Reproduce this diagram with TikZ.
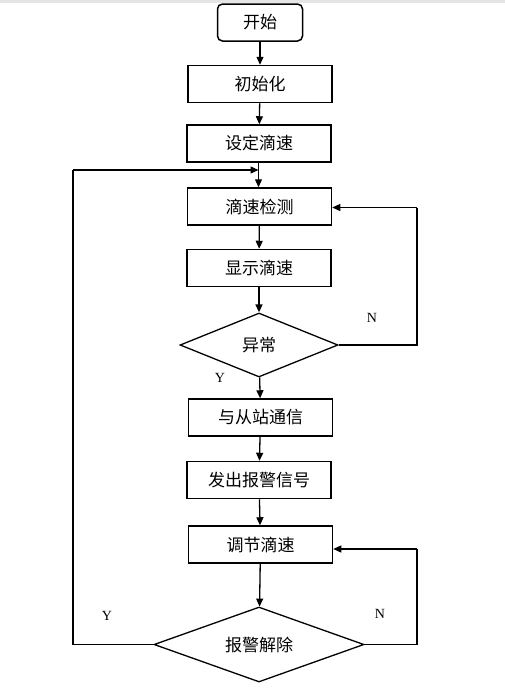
\documentclass[tikz,border=0pt]{standalone}
\usepackage{fontspec}
\setmainfont{Liberation Serif}
\newfontfamily\cjk{Noto Sans CJK SC}
\usetikzlibrary{shapes.geometric, arrows.meta, positioning}

\begin{document}
\begin{tikzpicture}
  [
    x=1pt, y=-1pt,
    Box/.style={rectangle, draw=black, line width=1.5pt, minimum width=144pt, minimum height=37pt, inner sep=0pt, font=\cjk\fontsize{17}{20}\selectfont},
    Start/.style={Box, rounded corners=5pt, minimum width=85pt},
    Decision/.style={diamond, shape aspect=3, draw=black, line width=1.3pt, inner sep=0pt, font=\cjk\fontsize{17}{20}\selectfont},
    Line/.style={line width=1.3pt, -{Triangle[length=8pt,width=7pt]}},
    Plain/.style={line width=1.3pt},
    Mark/.style={font=\fontsize{14}{16}\selectfont}
  ]
  \useasboundingbox (0,0) rectangle (505,689);
  \fill[gray!20] (0,0) rectangle (505,3);

  % Nodes
  \node[Start] (start) at(260, 22.5) {开始};
  \node[Box] (init) at(260, 84) {初始化};
  \node[Box] (set) at(259, 143.5) {设定滴速};
  \node[Box] (detect) at(259.5, 206.5) {滴速检测};
  \node[Box] (show) at(259, 268) {显示滴速};
  \node[Decision, minimum width=158pt, minimum height=64pt] (abn) at(259, 345) {异常};
  \node[Box] (comm) at(260.5, 417.5) {与从站通信};
  \node[Box] (alarm) at(259, 480) {发出报警信号};
  \node[Box] (adjust) at(260.5, 544.5) {调节滴速};
  \node[Decision, minimum width=210pt, minimum height=75pt] (clear) at(259, 644.5) {报警解除};

  \coordinate (join) at(258.5, 170);
  \coordinate (yleft) at(73, 644.5);
  \coordinate (ytop) at(73, 170);
  \coordinate (nright1) at(417, 345);
  \coordinate (ntop1) at(417, 207.5);
  \coordinate (nright2) at(417, 644.5);
  \coordinate (ntop2) at(417, 549);

  % Labels
  \node[Mark] (n1) at(372, 318) {N};
  \node[Mark] (y1) at(220, 378) {Y};
  \node[Mark] (y2) at(107, 616) {Y};
  \node[Mark] (n2) at(380, 614) {N};

  % Lines
  \path [Line, draw] (start) -- (init);
  \path [Line, draw] (init) -- (set);
  \path [Line, draw] (set.south -| join) -- (detect.north -| join);
  \path [Line, draw] (detect) -- (show);
  \path [Line, draw] (show) -- (abn);
  \path [Line, draw] (abn) -- (comm);
  \path [Line, draw] (comm) -- (alarm);
  \path [Line, draw] (alarm) -- (adjust);
  \path [Line, draw] (adjust) -- (clear);
  \path [Plain, draw] (abn.east) -- (nright1) -- (ntop1);
  \path [Line, draw] (ntop1) -- (detect.east |- ntop1);
  \path [Plain, draw] (clear.east) -- (nright2) -- (ntop2);
  \path [Line, draw] (ntop2) -- (adjust.east |- ntop2);
  \path [Plain, draw] (clear.west) -- (yleft) -- (ytop);
  \path [Line, draw] (ytop) -- (join);

\end{tikzpicture}
\end{document}
